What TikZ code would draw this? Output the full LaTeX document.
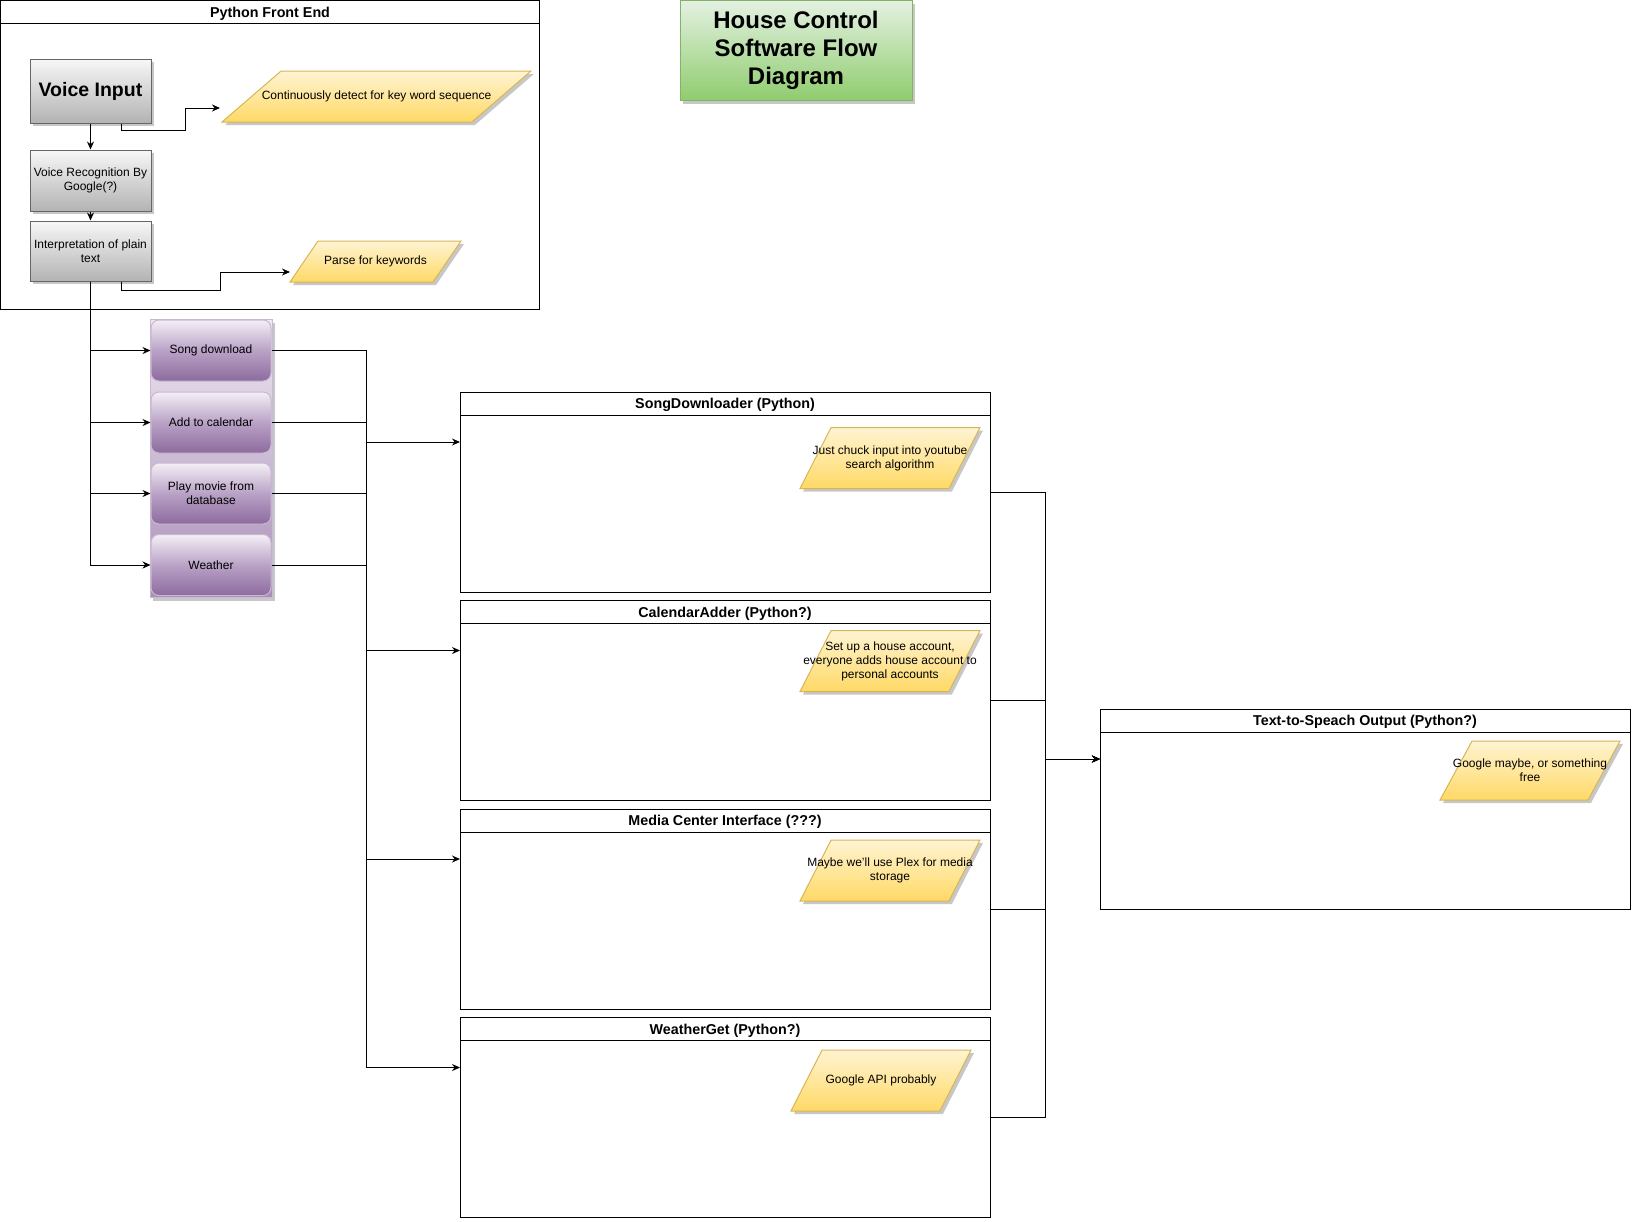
\documentclass[tikz,border=0pt]{standalone}
\usepackage{fontspec}
\setmainfont{Liberation Sans}
\usepackage{tikz}
\usetikzlibrary{positioning,arrows.meta,calc,shapes.geometric,shadows}

\definecolor{notedraw}{HTML}{D6B656}
\definecolor{notetop}{HTML}{FFF4D2}
\definecolor{notebot}{HTML}{FFD966}
\definecolor{graydraw}{HTML}{666666}
\definecolor{graytop}{HTML}{F7F7F7}
\definecolor{graybot}{HTML}{B3B3B3}
\definecolor{greendraw}{HTML}{82B366}
\definecolor{greentop}{HTML}{E4F1E2}
\definecolor{greenbot}{HTML}{8FCC6E}
\definecolor{purpdraw}{HTML}{C9B8D2}
\definecolor{purptop}{HTML}{F4EFF6}
\definecolor{purpmid}{HTML}{B9A2C6}
\definecolor{purpbot}{HTML}{8D6B9E}
\definecolor{menutop}{HTML}{EFE8F2}
\definecolor{menubot}{HTML}{A98EB8}

\tikzset{
  flow/.style={-{Stealth[length=8pt,width=7pt]}},
  shade3/.style={drop shadow={shadow xshift=3pt,shadow yshift=-3pt,fill=black!22,opacity=1}},
  bodyfont/.style={font=\fontsize{12}{14}\selectfont},
  graybox/.style={rectangle, draw=graydraw, top color=graytop, bottom color=graybot, shade3,
    minimum width=121pt, align=center, bodyfont, inner sep=1pt},
  note/.style={trapezium, trapezium stretches body, draw=notedraw, top color=notetop,
    bottom color=notebot, shade3, inner xsep=0pt, outer sep=0pt},
  notetext/.style={align=center, bodyfont},
  lane/.style={rectangle, draw, minimum width=530pt, minimum height=200pt, inner sep=0pt, outer sep=0pt},
  lanehead/.style={rectangle, draw, minimum height=23pt, inner sep=0pt, outer sep=0pt,
    text height=11pt, text depth=1pt, font=\bfseries\fontsize{14.3}{16}\selectfont},
  menubox/.style={rectangle, draw=purpdraw, top color=menutop, bottom color=menubot, shade3},
  menubtn/.style={rectangle, rounded corners=8pt, draw=purpdraw, top color=purptop,
    bottom color=purpbot, middle color=purpmid, minimum width=120pt, minimum height=61pt,
    align=center, bodyfont, inner sep=1pt},
  titlebox/.style={rectangle, draw=greendraw, top color=greentop, bottom color=greenbot, shade3,
    minimum width=232pt, minimum height=100pt, align=center,
    font=\bfseries\fontsize{24}{28}\selectfont}
}

\begin{document}
\begin{tikzpicture}[x=1pt, y=-1pt, line width=1pt]
  \useasboundingbox (0,0) rectangle (1632,1221);

  % Front end frame
  \node[lane, minimum width=539pt, minimum height=309pt] (front) at (270,155) {};
  \node[lanehead, minimum width=539pt, anchor=north] (front-head) at (front.north) {Python Front End};

  % Title
  \node[titlebox] (title) at (796,50.5) {House Control\\Software Flow\\Diagram};

  % Speech chain
  \node[graybox, minimum height=64pt, font=\bfseries\fontsize{19.5}{22}\selectfont] (voice) at (90.5,91) {Voice Input};
  \node[graybox, minimum height=61pt] (vrec) at (90.5,180.5) {Voice Recognition By\\Google(?)};
  \node[graybox, minimum height=60pt] (interp) at (90.5,251) {Interpretation of plain\\text};

  \node[note, trapezium left angle=40.8, trapezium right angle=139.2, minimum width=309pt, inner ysep=25.5pt,
    label={[notetext]center:Continuously detect for key word sequence}] (detect) at (376.5,96.5) {};
  \node[note, trapezium left angle=55.7, trapezium right angle=124.3, minimum width=171pt, inner ysep=20.5pt,
    label={[notetext]center:Parse for keywords}] (parse) at (375.5,261.5) {};

  \draw[flow] (voice) -- (vrec);
  \draw[flow] (vrec) -- (interp);

  \coordinate (kink1) at (185,130);
  \coordinate (detect-in) at (220,108);
  \draw[flow] ($(voice.south)!0.5!(voice.south east)$) |- (kink1) |- (detect-in);

  \coordinate (kink2) at (220,290);
  \coordinate (parse-in) at (290,272);
  \draw[flow] ($(interp.south)!0.5!(interp.south east)$) |- (kink2) |- (parse-in);

  % Command menu
  \node[menubox, minimum width=122pt, minimum height=278pt] (menu) at (211,458.5) {};
  \foreach \n/\y/\txt in {songbtn/350.5/Song download, calbtn/422.5/Add to calendar,
                          moviebtn/493.5/{Play movie from\\database}, wxbtn/565/Weather} {
    \node[menubtn] (\n) at (211,\y) {\txt};
    \draw[flow] (interp.south) |- (\n.west);
  }

  % Modules
  \foreach \n/\t/\title in {song/392/SongDownloader (Python), cal/600.5/CalendarAdder (Python?),
                            media/809/Media Center Interface (???), wx/1017.5/WeatherGet (Python?)} {
    \node[lane] (\n) at (725,\t+100) {};
    \node[lanehead, minimum width=530pt, anchor=north] (\n-head) at (\n.north) {\title};
    \coordinate (\n-in) at (460,\t+50);
  }

  \node[note, trapezium left angle=63, trapezium right angle=117, minimum width=180pt, inner ysep=30.5pt,
    label={[notetext]center:{Just chuck input into youtube\\search algorithm}}] (song-note) at (890,458) {};
  \node[note, trapezium left angle=63, trapezium right angle=117, minimum width=180pt, inner ysep=30.5pt,
    label={[notetext]center:{Set up a house account,\\everyone adds house account to\\personal accounts}}] (cal-note) at (890,661) {};
  \node[note, trapezium left angle=63, trapezium right angle=117, minimum width=180pt, inner ysep=30.5pt,
    label={[notetext]center:{Maybe we'll use Plex for media\\storage}}] (media-note) at (890,870.5) {};
  \node[note, trapezium left angle=63, trapezium right angle=117, minimum width=180pt, inner ysep=30.5pt,
    label={[notetext]center:Google API probably}] (wx-note) at (881,1080.5) {};

  % Output
  \node[lane] (tts) at (1365,809) {};
  \node[lanehead, minimum width=530pt, anchor=north] (tts-head) at (tts.north) {Text-to-Speach Output (Python?)};
  \node[note, trapezium left angle=61.5, trapezium right angle=118.5, minimum width=180pt, inner ysep=29.5pt,
    label={[notetext]center:{Google maybe, or something\\free}}] (tts-note) at (1530,770.5) {};

  % Connections
  \coordinate (bus) at (366,0);
  \foreach \b/\n in {songbtn/song, calbtn/cal, moviebtn/media, wxbtn/wx} {
    \draw[flow] (\b.east) -| (bus |- \n-in) -- (\n-in);
  }

  \coordinate (ttsbus) at (1045,759);
  \coordinate (tts-in) at (1100,759);
  \foreach \n in {song, cal, media, wx} {
    \draw[flow] (\n.east) -| (ttsbus) -- (tts-in);
  }
\end{tikzpicture}
\end{document}
